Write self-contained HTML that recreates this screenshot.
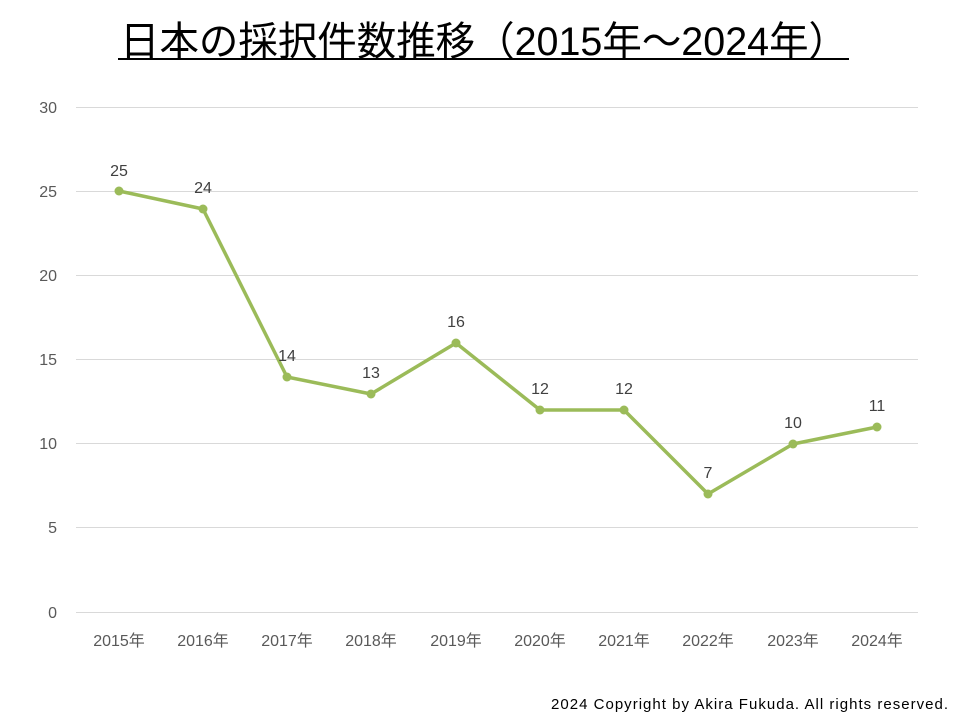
<!DOCTYPE html>
<html><head><meta charset="utf-8"><style>
body{margin:0;background:#fff;}
svg{display:block;}
</style></head><body>
<svg width="960" height="720" xmlns="http://www.w3.org/2000/svg" font-family="Liberation Sans, Noto Sans CJK JP, sans-serif">
<rect width="960" height="720" fill="#fff"/>
<text x="484" y="55" font-size="40" text-anchor="middle" fill="#000" textLength="728" lengthAdjust="spacingAndGlyphs">日本の採択件数推移（2015年～2024年）</text>
<line x1="118" y1="59" x2="849" y2="59" stroke="#000" stroke-width="2"/>
<g stroke="#d9d9d9" stroke-width="1">
<line x1="76" y1="107.5" x2="918" y2="107.5"/>
<line x1="76" y1="191.5" x2="918" y2="191.5"/>
<line x1="76" y1="275.5" x2="918" y2="275.5"/>
<line x1="76" y1="359.5" x2="918" y2="359.5"/>
<line x1="76" y1="443.5" x2="918" y2="443.5"/>
<line x1="76" y1="527.5" x2="918" y2="527.5"/>
<line x1="76" y1="612.5" x2="918" y2="612.5"/>
</g>
<g font-size="16" fill="#595959" text-anchor="end">
<text x="57" y="113">30</text><text x="57" y="197">25</text><text x="57" y="281">20</text>
<text x="57" y="365">15</text><text x="57" y="449">10</text><text x="57" y="533">5</text><text x="57" y="618">0</text>
</g>
<g font-size="16" fill="#595959" text-anchor="middle">
<text x="119" y="646">2015年</text><text x="203" y="646">2016年</text><text x="287" y="646">2017年</text>
<text x="371" y="646">2018年</text><text x="456" y="646">2019年</text><text x="540" y="646">2020年</text>
<text x="624" y="646">2021年</text><text x="708" y="646">2022年</text><text x="793" y="646">2023年</text>
<text x="877" y="646">2024年</text>
</g>
<polyline fill="none" stroke="#9bbb59" stroke-width="3.5" stroke-linejoin="round" points="119,191 203,209 287,377 371,394 456,343 540,410 624,410 708,494 793,444 877,427"/>
<g fill="#9bbb59">
<circle cx="119" cy="191" r="4.5"/><circle cx="203" cy="209" r="4.5"/><circle cx="287" cy="377" r="4.5"/>
<circle cx="371" cy="394" r="4.5"/><circle cx="456" cy="343" r="4.5"/><circle cx="540" cy="410" r="4.5"/>
<circle cx="624" cy="410" r="4.5"/><circle cx="708" cy="494" r="4.5"/><circle cx="793" cy="444" r="4.5"/>
<circle cx="877" cy="427" r="4.5"/>
</g>
<g font-size="16" fill="#404040" text-anchor="middle">
<text x="119" y="176">25</text><text x="203" y="193">24</text><text x="287" y="361">14</text>
<text x="371" y="378">13</text><text x="456" y="327">16</text><text x="540" y="394">12</text>
<text x="624" y="394">12</text><text x="708" y="478">7</text><text x="793" y="428">10</text>
<text x="877" y="411">11</text>
</g>
<text x="948" y="709" font-size="15" fill="#000" text-anchor="end" textLength="397" lengthAdjust="spacing">2024 Copyright by Akira Fukuda.  All rights reserved.</text>
</svg>
</body></html>
